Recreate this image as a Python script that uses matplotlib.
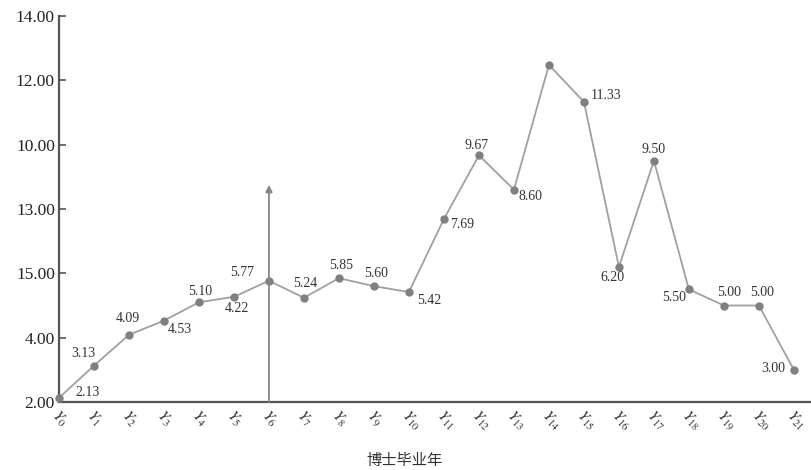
import matplotlib
matplotlib.use("Agg")
import matplotlib.pyplot as plt
import matplotlib.transforms as mtransforms

# data (Y14 has no printed label)
years = [f"$Y_{{{i}}}$" for i in range(22)]
values = [2.13, 3.13, 4.09, 4.53, 5.10, 5.27, 5.77, 5.24, 5.85, 5.60, 5.42,
          7.69, 9.67, 8.60, 12.48, 11.33, 6.20, 9.50, 5.50, 5.00, 5.00, 3.00]
labels = ["2.13", "3.13", "4.09", "4.53", "5.10", "4.22", "5.77", "5.24", "5.85", "5.60", "5.42",
          "7.69", "9.67", "8.60", "", "11.33", "6.20", "9.50", "5.50", "5.00", "5.00", "3.00"]
ytick_vals = [2, 4, 6, 8, 10, 12, 14]
ytick_text = ["2.00", "4.00", "15.00", "13.00", "10.00", "12.00", "14.00"]
arrow_x = 6
arrow_top = 8.75

# label offsets in pixels (dx, dy)
offsets = [(29, 5), (-11, 12), (-1, 16), (16, -9), (1, 11), (3, -12), (-27, 8), (1, 14),
           (2, 13), (2, 13), (20, -9), (18, -6), (-2, 10), (17, -7), (0, 0), (22, 6),
           (-6, -11), (0, 11), (-15, -8), (5, 13), (3, 13), (-21, 1)]

plt.rcParams['font.family'] = ['Liberation Serif', 'Noto Sans CJK SC']
plt.rcParams['mathtext.fontset'] = 'stix'

fig = plt.figure(figsize=(8.11, 4.70), dpi=100)
ax = fig.add_axes([59 / 811, (470 - 402) / 470, (810 - 59) / 811, (402 - 16) / 470])

x = list(range(len(values)))
ax.plot(x, values, color='#a0a0a0', lw=1.3, marker='o', ms=5,
        mfc='#808080', mec='#808080', zorder=3, clip_on=False)

for xi, v, lab, (dx, dy) in zip(x, values, labels, offsets):
    if lab:
        ax.annotate(lab, (xi, v), xytext=(dx, dy), textcoords='offset pixels',
                    ha='center', va='center', fontsize=10, color='#333333')

ax.annotate('', xy=(arrow_x, arrow_top), xytext=(arrow_x, 2),
            arrowprops=dict(arrowstyle='-|>', color='#888888', lw=1.3,
                            mutation_scale=10, shrinkA=0, shrinkB=0))

ax.set_xlim(0, 21.46)
ax.set_ylim(2, 14)
ax.set_yticks(ytick_vals)
ax.set_yticklabels(ytick_text, fontsize=12.5, color='#222222')
ax.tick_params(axis='y', direction='in', length=5, width=1.2, color='#555555', pad=3)
ax.set_xticks(x)
ax.set_xticklabels(years, rotation=-45, ha='left', va='center', rotation_mode='anchor',
                   fontsize=11, color='#333333')
ax.tick_params(axis='x', length=0, pad=8)
shift = mtransforms.ScaledTranslation(-5 / 100, 0, fig.dpi_scale_trans)
for t in ax.get_xticklabels():
    t.set_transform(t.get_transform() + shift)

for side in ['top', 'right']:
    ax.spines[side].set_visible(False)
for side in ['left', 'bottom']:
    ax.spines[side].set_color('#555555')
    ax.spines[side].set_linewidth(1.6)

ax.set_xlabel('博士毕业年', fontsize=11, color='#333333', family=['Noto Sans CJK SC'], labelpad=12)
ax.xaxis.set_label_coords((405 - 59) / (810 - 59), -(452 - 402) / (402 - 16))

fig.savefig('out.png', dpi=100, facecolor='white')
